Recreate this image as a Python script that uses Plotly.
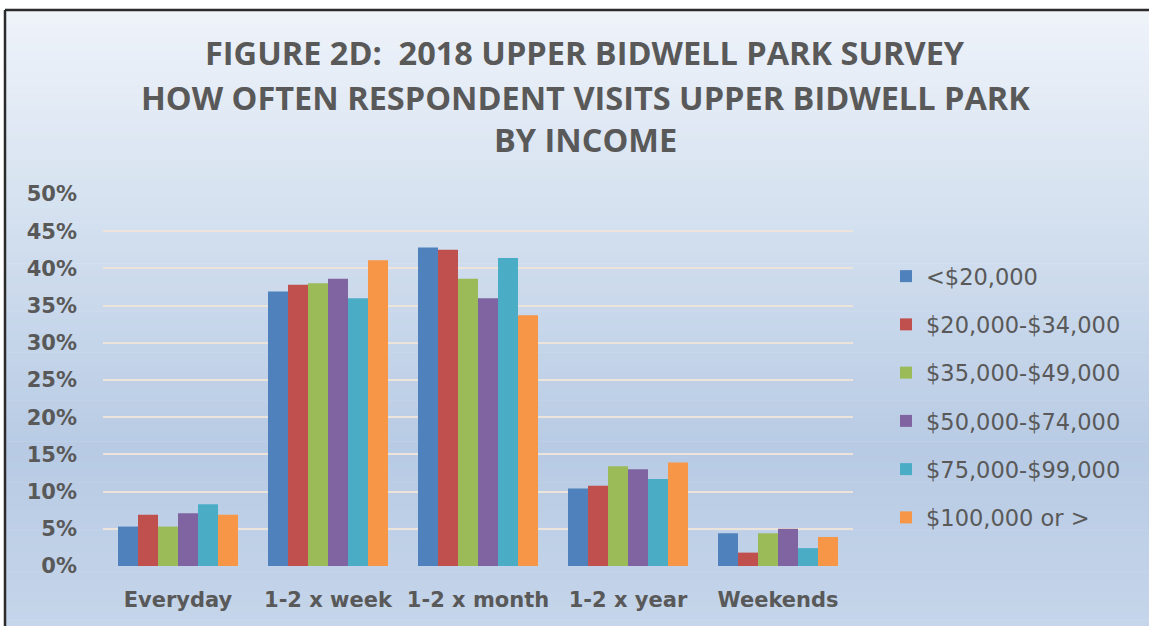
import plotly.graph_objects as go

# Visit frequency categories and income brackets
categories = ["Everyday", "1-2 x week", "1-2 x month", "1-2 x year", "Weekends"]
income_groups = [
    "<$20,000",
    "$20,000-$34,000",
    "$35,000-$49,000",
    "$50,000-$74,000",
    "$75,000-$99,000",
    "$100,000 or >",
]

# Share of respondents in each bracket, per visit frequency
under_20k = [0.053, 0.369, 0.428, 0.104, 0.044]
from_20k_34k = [0.069, 0.378, 0.425, 0.108, 0.018]
from_35k_49k = [0.053, 0.380, 0.386, 0.134, 0.044]
from_50k_74k = [0.071, 0.386, 0.360, 0.130, 0.050]
from_75k_99k = [0.083, 0.360, 0.414, 0.117, 0.024]
over_100k = [0.069, 0.411, 0.337, 0.139, 0.039]

series = [under_20k, from_20k_34k, from_35k_49k, from_50k_74k, from_75k_99k, over_100k]
colors = ["#4F81BD", "#C0504D", "#9BBB59", "#8064A2", "#4BACC6", "#F79646"]

y_ticks = [0, 0.05, 0.10, 0.15, 0.20, 0.25, 0.30, 0.35, 0.40, 0.45, 0.50]
y_tick_labels = ["0%", "5%", "10%", "15%", "20%", "25%", "30%", "35%", "40%", "45%", "50%"]

title_lines = [
    "FIGURE 2D:  2018 UPPER BIDWELL PARK SURVEY",
    "HOW OFTEN RESPONDENT VISITS UPPER BIDWELL PARK",
    "BY INCOME",
]

W, H = 1149, 626
L, R, T, B = 103, 296, 194, 60
TEXT = "#595959"

fig = go.Figure()
for name, vals, col in zip(income_groups, series, colors):
    fig.add_trace(go.Bar(
        x=categories, y=vals, name=name, marker_color=col,
        marker_line_width=0, legendgroup=name,
    ))

# Pixel -> paper coordinate helpers for decoration shapes
def px_x(px):
    return (px - L) / (W - L - R)

def px_y(py):
    return (H - B - py) / (H - T - B)

def lerp(c1, c2, t):
    return tuple(round(a + (b - a) * t) for a, b in zip(c1, c2))

# Vertical gradient behind the chart (light at top, steel blue lower down)
stops = [(10, (239, 243, 250)), (200, (214, 226, 240)), (450, (184, 203, 228)), (626, (197, 213, 234))]
shapes = []
bands = 90
top, bottom = 10, H
for i in range(bands):
    y0 = top + (bottom - top) * i / bands
    y1 = top + (bottom - top) * (i + 1) / bands
    ym = (y0 + y1) / 2
    for (sa, ca), (sb, cb) in zip(stops[:-1], stops[1:]):
        if sa <= ym <= sb:
            c = lerp(ca, cb, (ym - sa) / (sb - sa))
            break
    shapes.append(dict(
        type="rect", xref="paper", yref="paper", layer="below",
        x0=px_x(5), x1=px_x(W + 2), y0=px_y(y1 + 0.6), y1=px_y(y0),
        fillcolor="rgb(%d,%d,%d)" % c, line_width=0,
    ))

# Frame lines along the top and left edges
shapes.append(dict(type="line", xref="paper", yref="paper", layer="above",
                   x0=px_x(5), x1=px_x(W + 2), y0=px_y(10), y1=px_y(10),
                   line=dict(color="#2b2b2b", width=2.5)))
shapes.append(dict(type="line", xref="paper", yref="paper", layer="above",
                   x0=px_x(5), x1=px_x(5), y0=px_y(10), y1=px_y(H + 2),
                   line=dict(color="#2b2b2b", width=2.5)))

annotations = []
for line, cy in zip(title_lines, [53, 97, 140]):
    annotations.append(dict(
        text=line, xref="paper", yref="paper", x=px_x(585), y=px_y(cy),
        xanchor="center", yanchor="middle", showarrow=False,
        font=dict(family="Open Sans", size=32.5, color=TEXT, weight="bold"),
    ))

fig.update_layout(
    width=W, height=H,
    margin=dict(l=L, r=R, t=T, b=B, autoexpand=False),
    paper_bgcolor="white",
    plot_bgcolor="rgba(0,0,0,0)",
    barmode="group", bargap=0.2, bargroupgap=0,
    shapes=shapes,
    annotations=annotations,
    showlegend=True,
    legend=dict(
        x=px_x(886), y=px_y(255), xanchor="left", yanchor="top",
        bgcolor="rgba(0,0,0,0)", traceorder="grouped", tracegroupgap=16,
        font=dict(family="DejaVu Sans", size=22.5, color=TEXT),
        itemwidth=30,
    ),
    font=dict(family="DejaVu Sans", color=TEXT),
)

fig.update_yaxes(
    range=[0, 0.5], tickvals=y_ticks, ticktext=y_tick_labels,
    showgrid=True, gridcolor="#ECE4DA", gridwidth=1.5,
    zeroline=False, showline=False, ticks="",
    ticklabelstandoff=25,
    tickfont=dict(family="DejaVu Sans", size=21, color=TEXT, weight="bold"),
)
fig.update_xaxes(
    showgrid=False, showline=False, zeroline=False, ticks="",
    ticklabelstandoff=19,
    tickfont=dict(family="DejaVu Sans", size=21, color=TEXT, weight="bold"),
)

fig.write_html("out.html")
